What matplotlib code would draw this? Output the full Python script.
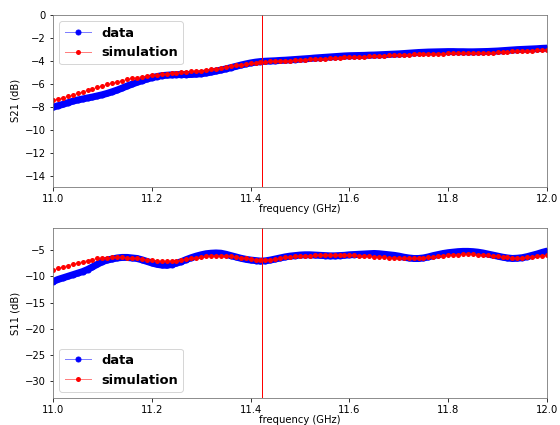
import numpy as np
import matplotlib
matplotlib.use('Agg')
import matplotlib.pyplot as plt

# frequency grid (GHz), 0.01 step
freq = np.round(np.arange(11.0, 12.0001, 0.01), 2)

s21_data = [-8.05, -7.92, -7.80, -7.66, -7.52, -7.42, -7.33, -7.24, -7.16, -7.06,
            -6.96, -6.84, -6.70, -6.55, -6.38, -6.20, -6.04, -5.88, -5.74, -5.60,
            -5.48, -5.38, -5.30, -5.26, -5.23, -5.21, -5.20, -5.20, -5.19, -5.17,
            -5.13, -5.07, -4.99, -4.90, -4.81, -4.71, -4.60, -4.49, -4.38, -4.28,
            -4.19, -4.12, -4.07, -4.04, -4.02, -4.00, -3.97, -3.95, -3.92, -3.89,
            -3.86, -3.83, -3.80, -3.76, -3.73, -3.70, -3.67, -3.64, -3.61, -3.58,
            -3.56, -3.55, -3.54, -3.53, -3.51, -3.50, -3.48, -3.46, -3.44, -3.42,
            -3.40, -3.37, -3.34, -3.31, -3.28, -3.26, -3.24, -3.23, -3.22, -3.21,
            -3.20, -3.20, -3.21, -3.21, -3.22, -3.22, -3.21, -3.20, -3.19, -3.17,
            -3.15, -3.12, -3.09, -3.06, -3.03, -3.01, -2.99, -2.97, -2.95, -2.92,
            -2.90]

s21_sim = [-7.45, -7.34, -7.22, -7.10, -6.97, -6.84, -6.71, -6.58, -6.45, -6.32,
           -6.19, -6.06, -5.94, -5.83, -5.73, -5.63, -5.54, -5.46, -5.39, -5.33,
           -5.27, -5.22, -5.17, -5.13, -5.09, -5.05, -5.01, -4.97, -4.93, -4.89,
           -4.85, -4.80, -4.74, -4.68, -4.61, -4.54, -4.47, -4.40, -4.33, -4.27,
           -4.21, -4.16, -4.12, -4.09, -4.06, -4.04, -4.02, -4.00, -3.98, -3.96,
           -3.93, -3.91, -3.88, -3.86, -3.83, -3.81, -3.78, -3.76, -3.73, -3.71,
           -3.69, -3.67, -3.66, -3.64, -3.62, -3.60, -3.58, -3.56, -3.54, -3.52,
           -3.50, -3.48, -3.46, -3.44, -3.42, -3.41, -3.40, -3.39, -3.38, -3.37,
           -3.36, -3.35, -3.35, -3.34, -3.34, -3.33, -3.32, -3.31, -3.30, -3.28,
           -3.26, -3.24, -3.22, -3.19, -3.17, -3.15, -3.13, -3.11, -3.09, -3.07,
           -3.05]

s11_data = [-11.0, -10.6, -10.3, -10.0, -9.7, -9.4, -9.1, -8.7, -8.2, -7.7,
            -7.2, -6.9, -6.7, -6.5, -6.4, -6.4, -6.5, -6.6, -6.85, -7.15,
            -7.45, -7.7, -7.85, -7.9, -7.75, -7.5, -7.2, -6.8, -6.45, -6.15,
            -5.9, -5.7, -5.6, -5.55, -5.6, -5.8, -6.05, -6.3, -6.55, -6.75,
            -6.9, -7.0, -7.1, -7.05, -6.9, -6.7, -6.5, -6.3, -6.15, -6.05,
            -5.95, -5.9, -5.9, -5.95, -6.0, -6.05, -6.1, -6.1, -6.05, -6.0,
            -5.9, -5.85, -5.8, -5.75, -5.7, -5.65, -5.7, -5.8, -5.9, -6.0,
            -6.15, -6.35, -6.5, -6.6, -6.6, -6.5, -6.3, -6.05, -5.85, -5.65,
            -5.5, -5.4, -5.3, -5.25, -5.25, -5.3, -5.4, -5.55, -5.75, -5.95,
            -6.15, -6.35, -6.5, -6.6, -6.55, -6.45, -6.25, -6.0, -5.75, -5.45,
            -5.2]

s11_sim = [-8.8, -8.5, -8.2, -7.95, -7.7, -7.45, -7.2, -7.0, -6.8, -6.6,
           -6.5, -6.45, -6.4, -6.4, -6.4, -6.45, -6.5, -6.6, -6.7, -6.85,
           -6.95, -7.05, -7.1, -7.1, -7.05, -7.0, -6.9, -6.75, -6.6, -6.45,
           -6.3, -6.2, -6.1, -6.05, -6.05, -6.1, -6.2, -6.3, -6.45, -6.6,
           -6.7, -6.8, -6.85, -6.85, -6.8, -6.7, -6.55, -6.4, -6.3, -6.2,
           -6.15, -6.1, -6.05, -6.0, -6.0, -5.95, -5.95, -5.95, -5.95, -5.95,
           -6.0, -6.0, -6.05, -6.1, -6.15, -6.25, -6.3, -6.4, -6.45, -6.5,
           -6.55, -6.6, -6.6, -6.6, -6.55, -6.45, -6.35, -6.25, -6.15, -6.05,
           -5.95, -5.9, -5.85, -5.8, -5.8, -5.8, -5.85, -5.9, -6.0, -6.1,
           -6.2, -6.3, -6.4, -6.5, -6.5, -6.45, -6.35, -6.25, -6.15, -6.05,
           -6.0]

f_op = 11.424  # operating frequency marker

fig = plt.figure(figsize=(560 / 72, 425 / 72), dpi=72)
ax1 = fig.add_axes([0.0946, 0.56, 0.8822, 0.405])
ax2 = fig.add_axes([0.0946, 0.063, 0.8822, 0.4005])


def draw(ax, data, sim, ylabel, legloc):
    # measured trace is so dense it shows as a solid band
    ax.plot(freq, data, color='b', lw=7, solid_capstyle='round', solid_joinstyle='round')
    ax.plot(freq, data, color=(0, 0, 1, 0.5), marker='o', ms=5, mfc='b', mec='b',
            lw=1, label='data')
    ax.plot(freq, sim, color=(1, 0, 0, 0.5), marker='o', ms=5, mfc='r', mec='r',
            mew=0, lw=1, label='simulation')
    ax.axvline(f_op, color='r', lw=1)
    ax.set_xlim(11.0, 12.0)
    ax.set_xlabel('frequency (GHz)', labelpad=0)
    ax.set_ylabel(ylabel)
    for s in ax.spines.values():
        s.set_color('0.45')
    ax.legend(loc=legloc, prop={'weight': 'bold', 'size': 13})


draw(ax1, s21_data, s21_sim, 'S21 (dB)', 'upper left')
ax1.set_ylim(-15, 0)
ax1.set_yticks(np.arange(-14, 1, 2))

draw(ax2, s11_data, s11_sim, 'S11 (dB)', 'lower left')
ax2.set_ylim(-33.2, -0.8)
ax2.set_yticks([-30, -25, -20, -15, -10, -5])

fig.savefig('out.png', dpi=72)
